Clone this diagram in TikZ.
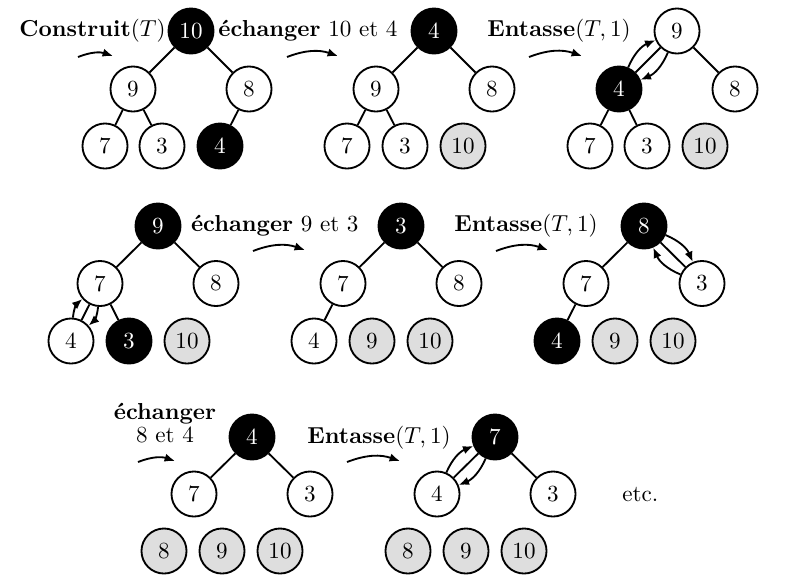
\documentclass[tikz,border=0pt]{standalone}
\usetikzlibrary{arrows.meta}
\tikzset{
  nd/.style={circle, draw, line width=0.8pt, minimum size=19.5pt, inner sep=0pt, font=\normalsize},
  blk/.style={nd, fill=black, text=white},
  gry/.style={nd, fill=black!13},
  edg/.style={line width=0.8pt},
  stp/.style={line width=0.8pt, -{Latex[length=4.5pt,width=3.6pt]}, bend left=20},
  swp/.style={line width=0.8pt, -{Latex[length=4.5pt,width=3.6pt]}, bend left=22},
  lbl/.style={inner sep=0pt}
}
\begin{document}
\begin{tikzpicture}[x=0.4329pt, y=-0.4329pt]
\useasboundingbox (0,0) rectangle (801,587);
% ---------- row 1, panel A
\node[blk] (a0) at (191,31) {10};
\node[nd]  (a1) at (133,89) {9};
\node[nd]  (a2) at (249,89) {8};
\node[nd]  (a3) at (105,146) {7};
\node[nd]  (a4) at (162,146) {3};
\node[blk] (a5) at (220,146) {4};
\draw[edg] (a0)--(a1) (a0)--(a2) (a1)--(a3) (a1)--(a4) (a2)--(a5);
\node[lbl, anchor=base east] (la) at (166,36) {\textbf{Construit}$(T)$};
\coordinate (ta1) at (78,57); \coordinate (ta2) at (113,56);
\draw[stp] (ta1) to (ta2);
% ---------- row 1, panel B
\node[blk] (b0) at (434,31) {4};
\node[nd]  (b1) at (376,89) {9};
\node[nd]  (b2) at (492,89) {8};
\node[nd]  (b3) at (347,146) {7};
\node[nd]  (b4) at (405,146) {3};
\node[gry] (b5) at (463,146) {10};
\draw[edg] (b0)--(b1) (b0)--(b2) (b1)--(b3) (b1)--(b4);
\node[lbl, anchor=base east] (lb) at (398,36) {\textbf{échanger} 10 et 4};
\coordinate (tb1) at (287,57); \coordinate (tb2) at (338,56);
\draw[stp] (tb1) to (tb2);
% ---------- row 1, panel C
\node[nd]  (c0) at (677,31) {9};
\node[blk] (c1) at (619,89) {4};
\node[nd]  (c2) at (735,89) {8};
\node[nd]  (c3) at (590,146) {7};
\node[nd]  (c4) at (647,146) {3};
\node[gry] (c5) at (705,146) {10};
\draw[edg] (c0)--(c1) (c0)--(c2) (c1)--(c3) (c1)--(c4);
\draw[swp] (c1) to (c0);
\draw[swp] (c0) to (c1);
\node[lbl, anchor=base west] (lc) at (487,36) {\textbf{Entasse}$(T,1)$};
\coordinate (tc1) at (529,57); \coordinate (tc2) at (582,56);
\draw[stp] (tc1) to (tc2);
% ---------- row 2, panel D
\node[blk] (d0) at (158,226) {9};
\node[nd]  (d1) at (100,283.5) {7};
\node[nd]  (d2) at (216,283.5) {8};
\node[nd]  (d3) at (71,341) {4};
\node[blk] (d4) at (129,341) {3};
\node[gry] (d5) at (187,341) {10};
\draw[edg] (d0)--(d1) (d0)--(d2) (d1)--(d3) (d1)--(d4);
\draw[swp] (d3) to (d1);
\draw[swp] (d1) to (d3);
% ---------- row 2, panel E
\node[blk] (e0) at (401,226) {3};
\node[nd]  (e1) at (343,283.5) {7};
\node[nd]  (e2) at (459,283.5) {8};
\node[nd]  (e3) at (314,341) {4};
\node[gry] (e4) at (372,341) {9};
\node[gry] (e5) at (430,341) {10};
\draw[edg] (e0)--(e1) (e0)--(e2) (e1)--(e3);
\node[lbl, anchor=base east] (le) at (359,231) {\textbf{échanger} 9 et 3};
\coordinate (te1) at (253,251); \coordinate (te2) at (305,250);
\draw[stp] (te1) to (te2);
% ---------- row 2, panel F
\node[blk] (f0) at (644,226) {8};
\node[nd]  (f1) at (586,283.5) {7};
\node[nd]  (f2) at (702,283.5) {3};
\node[blk] (f3) at (557,341) {4};
\node[gry] (f4) at (615,341) {9};
\node[gry] (f5) at (673,341) {10};
\draw[edg] (f0)--(f1) (f0)--(f2) (f1)--(f3);
\draw[swp] (f0) to (f2);
\draw[swp] (f2) to (f0);
\node[lbl, anchor=base west] (lf) at (454,231) {\textbf{Entasse}$(T,1)$};
\coordinate (tf1) at (496,251); \coordinate (tf2) at (548,250);
\draw[stp] (tf1) to (tf2);
% ---------- row 3, panel G
\node[blk] (g0) at (252,437) {4};
\node[nd]  (g1) at (194,494) {7};
\node[nd]  (g2) at (310,494) {3};
\node[gry] (g3) at (164,551) {8};
\node[gry] (g4) at (222,551) {9};
\node[gry] (g5) at (280,551) {10};
\draw[edg] (g0)--(g1) (g0)--(g2);
\node[lbl, anchor=base] (lg1) at (165,419) {\textbf{échanger}};
\node[lbl, anchor=base] (lg2) at (165,442) {8 et 4};
\coordinate (tg1) at (138,462); \coordinate (tg2) at (175,461);
\draw[stp] (tg1) to (tg2);
% ---------- row 3, panel H
\node[blk] (h0) at (495,437) {7};
\node[nd]  (h1) at (437,494) {4};
\node[nd]  (h2) at (553,494) {3};
\node[gry] (h3) at (408,551) {8};
\node[gry] (h4) at (466,551) {9};
\node[gry] (h5) at (524,551) {10};
\draw[edg] (h0)--(h1) (h0)--(h2);
\draw[swp] (h1) to (h0);
\draw[swp] (h0) to (h1);
\node[lbl, anchor=base west] (lh) at (307,443) {\textbf{Entasse}$(T,1)$};
\coordinate (th1) at (347,462); \coordinate (th2) at (400,461);
\draw[stp] (th1) to (th2);
\node[lbl, anchor=base west] (etc) at (622,501) {etc.};
\end{tikzpicture}
\end{document}
